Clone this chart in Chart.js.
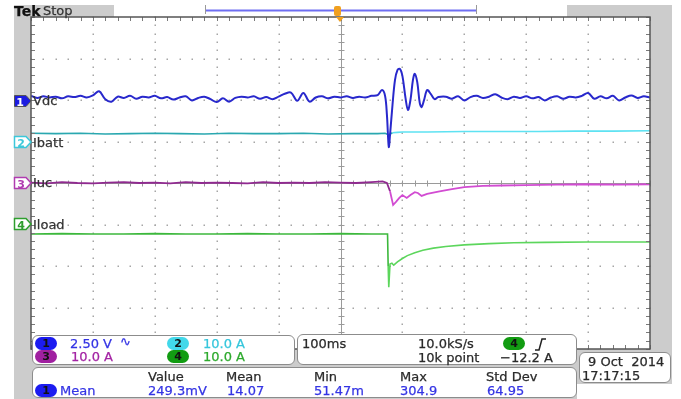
<!DOCTYPE html>
<html>
<head>
<meta charset="utf-8">
<script src="https://cdn.jsdelivr.net/npm/chart.js@4.4.0/dist/chart.umd.min.js"></script>
<style>
  body  { margin: 0; width: 681px; height: 399px; overflow: hidden; position: relative; background: #fff;
          font-family: "DejaVu Sans", sans-serif; }
  .bg   { position: absolute; background: #cccccc; }
  .t    { position: absolute; white-space: pre; font-size: 13px; line-height: 14px; color: #2a2a2a; z-index: 3;
          -webkit-text-stroke: 0.25px currentColor; }
  .lbl  { font-size: 13px; color: #333; }
  .blue { color: #3434e4; }
  .cyan { color: #36c6dc; }
  .mag  { color: #a424a4; }
  .grn  { color: #2eaa2e; }
  .pill { position: absolute; width: 22px; height: 13px; border-radius: 7px; z-index: 3;
          font: bold 11px/13px "DejaVu Sans", sans-serif; text-align: center; color: #111; }
  .box  { position: absolute; box-sizing: border-box; background: #fff; border: 1.5px solid #8c8c8c;
          border-radius: 6px; z-index: 2; }
  #scope { position: absolute; left: 0; top: 0; z-index: 1; }
  svg   { position: absolute; left: 0; top: 0; z-index: 3; }
</style>
</head>
<body>
<div class="bg" style="left:14px;top:5px;width:658px;height:379px"></div>
<div class="bg" style="left:14px;top:384px;width:563px;height:15px"></div>
<div class="bg" style="left:114px;top:5px;width:453px;height:12px;background:#fff"></div>

<canvas id="scope" width="681" height="399"></canvas>

<svg width="681" height="399">
  <line x1="206" y1="10.5" x2="476" y2="10.5" stroke="#6e6ef2" stroke-width="2"/>
  <line x1="205.5" y1="5" x2="205.5" y2="14" stroke="#999" stroke-width="1"/>
  <line x1="476.5" y1="5" x2="476.5" y2="14" stroke="#999" stroke-width="1"/>
  <rect x="334" y="6" width="7" height="10" rx="2" fill="#f0a020"/>
  <polygon points="336,17 344,17 340,22" fill="#f0a020"/>

  <polygon points="14.5,95.5 26,95.5 31,101 26,106.5 14.5,106.5" fill="#1c1ce0" stroke="#555" stroke-width="1"/>
  <text x="20" y="105.5" fill="#fff" font-family="DejaVu Sans" font-weight="bold" font-size="11" text-anchor="middle">1</text>
  <polygon points="14.5,136.5 26,136.5 31,142 26,147.5 14.5,147.5" fill="#fff" stroke="#3cc8da" stroke-width="1.5"/>
  <text x="21" y="146.5" fill="#3cc8da" font-family="DejaVu Sans" font-weight="bold" font-size="11" text-anchor="middle">2</text>
  <polygon points="14.5,177.5 26,177.5 31,183 26,188.5 14.5,188.5" fill="#fff" stroke="#b03cb0" stroke-width="1.5"/>
  <text x="21" y="187.5" fill="#b03cb0" font-family="DejaVu Sans" font-weight="bold" font-size="11" text-anchor="middle">3</text>
  <polygon points="14.5,218.5 26,218.5 31,224 26,229.5 14.5,229.5" fill="#fff" stroke="#2e9e2e" stroke-width="1.5"/>
  <text x="21" y="228.5" fill="#2e9e2e" font-family="DejaVu Sans" font-weight="bold" font-size="11" text-anchor="middle">4</text>

  <polyline points="535,350 539,350 542,339 546,339" fill="none" stroke="#222" stroke-width="1.5"/>
</svg>

<!-- header -->
<div class="t" style="left:14px;top:4px;font-size:14px;font-weight:bold;color:#111">Tek</div>
<div class="t" style="left:43px;top:4px;color:#333">Stop</div>

<!-- channel labels -->
<div class="t lbl" style="left:33px;top:94px">Vdc</div>
<div class="t lbl" style="left:33px;top:136px">Ibatt</div>
<div class="t lbl" style="left:33px;top:176px">Iuc</div>
<div class="t lbl" style="left:33px;top:218px">Iload</div>

<!-- readout panels -->
<div class="box" style="left:32px;top:335px;width:263px;height:30px"></div>
<div class="box" style="left:297px;top:334px;width:280px;height:31px"></div>
<div class="box" style="left:32px;top:367px;width:545px;height:31px"></div>
<div class="box" style="left:579px;top:352px;width:92px;height:31px"></div>

<div class="pill" style="left:35px;top:337px;background:#1c1cf0">1</div>
<div class="t blue" style="left:70px;top:337px">2.50 V</div>
<div class="t blue" style="left:120px;top:335px">∿</div>
<div class="pill" style="left:167px;top:337px;background:#42d8ea">2</div>
<div class="t cyan" style="left:203px;top:337px">10.0 A</div>
<div class="pill" style="left:35px;top:350px;background:#a020a0">3</div>
<div class="t mag" style="left:71px;top:350px">10.0 A</div>
<div class="pill" style="left:167px;top:350px;background:#129c12">4</div>
<div class="t grn" style="left:203px;top:350px">10.0 A</div>

<div class="t" style="left:302px;top:337px">100ms</div>
<div class="t" style="left:418px;top:337px">10.0kS/s</div>
<div class="pill" style="left:503px;top:337px;background:#129c12">4</div>
<div class="t" style="left:418px;top:351px">10k point</div>
<div class="t" style="left:500px;top:351px">−12.2 A</div>

<div class="t" style="left:148px;top:370px">Value</div>
<div class="t" style="left:226px;top:370px">Mean</div>
<div class="t" style="left:314px;top:370px">Min</div>
<div class="t" style="left:400px;top:370px">Max</div>
<div class="t" style="left:486px;top:370px">Std Dev</div>
<div class="pill" style="left:35px;top:384px;background:#1c1cf0">1</div>
<div class="t blue" style="left:60px;top:384px">Mean</div>
<div class="t blue" style="left:148px;top:384px">249.3mV</div>
<div class="t blue" style="left:227px;top:384px">14.07</div>
<div class="t blue" style="left:314px;top:384px">51.47m</div>
<div class="t blue" style="left:400px;top:384px">304.9</div>
<div class="t blue" style="left:487px;top:384px">64.95</div>

<div class="t" style="left:588px;top:355px">9 Oct  2014</div>
<div class="t" style="left:582px;top:369px">17:17:15</div>

<script>
// time in ms (100 ms/div, trigger at 0), level in screen divisions (0 = centre line)
var X_DIVS = [-500, -400, -300, -200, -100, 0, 100, 200, 300, 400, 500]
var Y_DIVS = [-4, -3, -2, -1, 0, 1, 2, 3, 4]

var VDC_T = [-500, -490, -480, -470, -460, -450, -440, -430, -420, -410, -400, -390, -380, -370, -360,
  -350, -340, -330, -320, -310, -300, -290, -280, -270, -260, -250, -240, -230, -220, -210, -200,
  -190, -180, -170, -160, -150, -140, -130, -120, -110, -100, -90, -80, -70, -60, -50, -40, -30,
  -20, -10, 0, 10, 20, 30, 40, 50, 60,
  67, 72, 75, 78, 80, 84, 88, 92, 96, 100, 105, 109, 113, 117, 120, 124, 128, 131, 135, 140, 146, 152, 158,
  170, 180, 190, 200, 210, 220, 230, 240, 250, 260, 270, 280, 290, 300, 310, 320, 330, 340, 350, 360,
  370, 380, 390, 400, 410, 420, 430, 440, 450, 460, 470, 480, 490, 500]
var VDC_V = [2.10, 2.05, 2.09, 2.06, 2.08, 2.04, 2.09, 2.07, 2.10, 2.06, 2.11, 2.21, 2.02, 1.96, 2.08,
  2.05, 2.10, 2.03, 2.08, 2.06, 2.10, 2.04, 2.07, 2.01, 2.06, 2.09, 1.99, 2.05, 2.08, 2.02, 1.95,
  2.04, 1.96, 2.05, 2.08, 2.06, 2.09, 2.03, 2.07, 2.02, 2.08, 2.15, 2.18, 1.98, 2.17, 1.96, 2.06, 2.09,
  2.04, 2.08, 2.06, 2.09, 2.05, 2.08, 2.06, 2.10, 2.12,
  2.24, 2.10, 1.64, 0.87, 1.16, 1.88, 2.48, 2.72, 2.75, 2.58, 2.05, 1.76, 2.00, 2.48, 2.63, 2.43, 1.93, 1.83, 2.00, 2.24, 2.14, 2.02, 2.07,
  2.08, 2.03, 2.09, 1.99, 2.07, 2.10, 2.05, 2.08, 2.14, 2.06, 2.02, 2.08, 2.05, 2.09, 2.04, 2.07, 1.99, 2.06, 2.09, 2.03,
  2.08, 2.06, 2.10, 2.17, 2.03, 2.09, 2.04, 2.10, 1.99, 2.06, 2.11, 2.05, 2.09, 2.06]

var IBATT_T = [-500, -460, -420, -380, -340, -300, -260, -220, -180, -140, -100, -60, -20, 20, 60,
  72, 78, 84, 92, 100, 140, 200, 260, 320, 380, 440, 500]
var IBATT_V = [1.20, 1.19, 1.20, 1.18, 1.19, 1.20, 1.19, 1.18, 1.20, 1.19, 1.19, 1.20, 1.18, 1.19, 1.19,
  1.20, 1.16, 1.21, 1.22, 1.23, 1.23, 1.24, 1.24, 1.24, 1.25, 1.25, 1.26]

var IUC_T = [-500, -475, -450, -425, -400, -375, -350, -325, -300, -275, -250, -225, -200, -175, -150,
  -125, -100, -75, -50, -25, 0, 25, 50,
  68, 75, 80, 85, 90, 95, 100, 107, 113, 120, 125, 131, 140,
  160, 180, 200, 230, 260, 300, 350, 400, 450, 500]
var IUC_V = [0.01, -0.01, 0.02, 0.00, -0.01, 0.01, 0.02, 0.00, 0.01, -0.01, 0.02, 0.00, 0.01, 0.00, -0.01,
  0.02, 0.00, 0.01, 0.00, 0.02, 0.01, 0.00, 0.02,
  0.04, 0.00, -0.20, -0.53, -0.45, -0.36, -0.29, -0.36, -0.29, -0.22, -0.24, -0.31, -0.26,
  -0.20, -0.15, -0.10, -0.07, -0.06, -0.05, -0.04, -0.03, -0.04, -0.03]

var ILOAD_T = [-500, -450, -400, -350, -300, -250, -200, -150, -100, -50, 0, 50,
  76, 77, 78, 80, 83, 86, 92, 100, 108, 120, 133, 150, 170, 200, 240, 280, 330, 400, 500]
var ILOAD_V = [-1.23, -1.22, -1.23, -1.23, -1.22, -1.23, -1.23, -1.22, -1.23, -1.23, -1.22, -1.23,
  -1.23, -2.00, -2.51, -1.95, -1.93, -1.98, -1.90, -1.82, -1.75, -1.68, -1.62, -1.57, -1.53, -1.49,
  -1.46, -1.44, -1.43, -1.42, -1.42]

function points(ts, vs) {
  return ts.map(function(t, i) { return {x: t, y: vs[i]} })
}

function minors(divs) {
  var out = []
  for (var i = 0; i < divs.length - 1; i++) {
    for (var k = 0; k < 5; k++) out.push(divs[i] + (divs[i + 1] - divs[i]) * k / 5)
  }
  out.push(divs[divs.length - 1])
  return out
}

function splitColor(at, before, after) {
  return function(ctx) { return ctx.p0.parsed.x < at ? before : after }
}

// Scope graticule: dotted divisions, ticked centre cross and frame
var graticule = {
  id: 'graticule',
  beforeDatasetsDraw: function(chart) {
    var ctx = chart.ctx, a = chart.chartArea
      , xs = chart.scales.x, ys = chart.scales.y
      , xm = minors(X_DIVS), ym = minors(Y_DIVS)
      , cx = Math.round(xs.getPixelForValue(0)) + 0.5
      , cy = Math.round(ys.getPixelForValue(0)) + 0.5
    ctx.save()
    ctx.fillStyle = '#fff'
    ctx.fillRect(a.left, a.top, a.right - a.left, a.bottom - a.top)

    ctx.fillStyle = '#a6a6a6'
    X_DIVS.slice(1, -1).forEach(function(t) {
      if (t === 0) return
      var px = Math.round(xs.getPixelForValue(t))
      ym.forEach(function(v) { ctx.fillRect(px - 0.5, Math.round(ys.getPixelForValue(v)) - 0.5, 1.5, 1.5) })
    })
    Y_DIVS.slice(1, -1).forEach(function(v) {
      if (v === 0) return
      var py = Math.round(ys.getPixelForValue(v))
      xm.forEach(function(t) { ctx.fillRect(Math.round(xs.getPixelForValue(t)) - 0.5, py - 0.5, 1.5, 1.5) })
    })

    ctx.strokeStyle = '#9a9a9a'
    ctx.lineWidth = 1
    ctx.beginPath()
    ctx.moveTo(cx, a.top); ctx.lineTo(cx, a.bottom)
    ctx.moveTo(a.left, cy); ctx.lineTo(a.right, cy)
    ym.forEach(function(v) {
      var py = Math.round(ys.getPixelForValue(v)) + 0.5
      ctx.moveTo(cx - 3, py); ctx.lineTo(cx + 3, py)
    })
    xm.forEach(function(t) {
      var px = Math.round(xs.getPixelForValue(t)) + 0.5
      ctx.moveTo(px, cy - 3); ctx.lineTo(px, cy + 3)
    })
    ctx.stroke()
    ctx.restore()
  },
  afterDatasetsDraw: function(chart) {
    var ctx = chart.ctx, a = chart.chartArea
      , xs = chart.scales.x, ys = chart.scales.y
    ctx.save()
    ctx.strokeStyle = '#7a7a7a'
    ctx.lineWidth = 1
    ctx.beginPath()
    minors(Y_DIVS).forEach(function(v) {
      var py = Math.round(ys.getPixelForValue(v)) + 0.5
      ctx.moveTo(a.left, py); ctx.lineTo(a.left + 4, py)
      ctx.moveTo(a.right - 4, py); ctx.lineTo(a.right, py)
    })
    minors(X_DIVS).forEach(function(t) {
      var px = Math.round(xs.getPixelForValue(t)) + 0.5
      ctx.moveTo(px, a.top); ctx.lineTo(px, a.top + 4)
      ctx.moveTo(px, a.bottom - 4); ctx.lineTo(px, a.bottom)
    })
    ctx.stroke()
    ctx.strokeStyle = '#555'
    ctx.lineWidth = 1.5
    ctx.strokeRect(a.left, a.top, a.right - a.left, a.bottom - a.top)
    ctx.restore()
  }
}

new Chart(document.getElementById('scope'), {
  type: 'line',
  data: {
    datasets: [
      { label: 'Vdc',   data: points(VDC_T, VDC_V),     borderColor: '#2828cc', borderWidth: 2, tension: 0.35 },
      { label: 'Ibatt', data: points(IBATT_T, IBATT_V), borderColor: '#2aa8b0',
        segment: { borderColor: splitColor(80, '#2aa8b0', '#5ee2f2') } },
      { label: 'Iuc',   data: points(IUC_T, IUC_V),     borderColor: '#902a90', borderWidth: 1.8,
        segment: { borderColor: splitColor(76, '#902a90', '#d24cd2') } },
      { label: 'Iload', data: points(ILOAD_T, ILOAD_V), borderColor: '#3cb83c',
        segment: { borderColor: splitColor(77, '#3cb83c', '#5cd65c') } }
    ]
  },
  options: {
    responsive: false,
    animation: false,
    layout: { padding: { left: 31, top: 17, right: 31, bottom: 50 } },
    plugins: { legend: { display: false }, tooltip: { enabled: false } },
    scales: {
      x: { type: 'linear', min: -500, max: 500, display: false },
      y: { type: 'linear', min: -4, max: 4, display: false }
    },
    elements: { point: { radius: 0 }, line: { tension: 0, borderWidth: 1.6 } }
  },
  plugins: [graticule]
})
</script>
</body>
</html>
